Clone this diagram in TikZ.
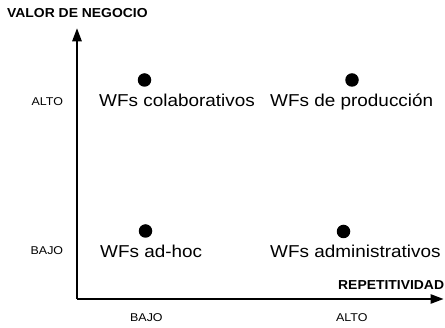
\documentclass[tikz,border=0pt]{standalone}
\usepackage{fontspec}
\setmainfont{Liberation Sans}
\newfontfamily\wffont[FakeStretch=1.1]{Liberation Sans}
\newfontfamily\axfont[FakeStretch=1.1]{Liberation Sans}
\newfontfamily\ttfont[FakeStretch=1.07]{Liberation Sans}
\usetikzlibrary{arrows.meta}
\begin{document}
\begin{tikzpicture}[x=1pt,y=-1pt,
  axis/.style={line width=1.3pt,-{Triangle[width=9.5pt,length=13pt]}},
  dot/.style={circle,fill=black,inner sep=0pt,minimum size=13.5pt},
  wf/.style={inner sep=0pt,anchor=base west,font=\wffont\fontsize{17.2}{20}\selectfont},
  lvl/.style={inner sep=0pt,anchor=base west,font=\axfont\fontsize{11.3}{13}\selectfont},
  ttl/.style={inner sep=0pt,anchor=base west,font=\ttfont\bfseries\fontsize{13}{15}\selectfont}]
\useasboundingbox (0,0) rectangle (445,328);
\coordinate (o) at (77,299);
\coordinate (ytip) at (77,28.3);
\coordinate (xtip) at (443.5,299);
\draw[axis] (o) -- (ytip);
\draw[axis] (o) -- (xtip);
\node[ttl] (ytitle) at (7,18) {VALOR DE NEGOCIO};
\node[ttl] (xtitle) at (338,289.5) {REPETITIVIDAD};
\node[lvl] (yalto) at (31.5,105.2) {ALTO};
\node[lvl] (ybajo) at (30.5,254.8) {BAJO};
\node[lvl] (xbajo) at (130,321.8) {BAJO};
\node[lvl] (xalto) at (336,321.8) {ALTO};
\node[dot] (d1) at (144.5,80) {};
\node[dot] (d2) at (352,80) {};
\node[dot] (d3) at (145.5,231) {};
\node[dot] (d4) at (343.5,231.5) {};
\node[wf] (w1) at (99,107) {WFs colaborativos};
\node[wf] (w2) at (270,107) {WFs de producción};
\node[wf] (w3) at (100,258) {WFs ad-hoc};
\node[wf] (w4) at (270,258) {WFs administrativos};
\end{tikzpicture}
\end{document}
